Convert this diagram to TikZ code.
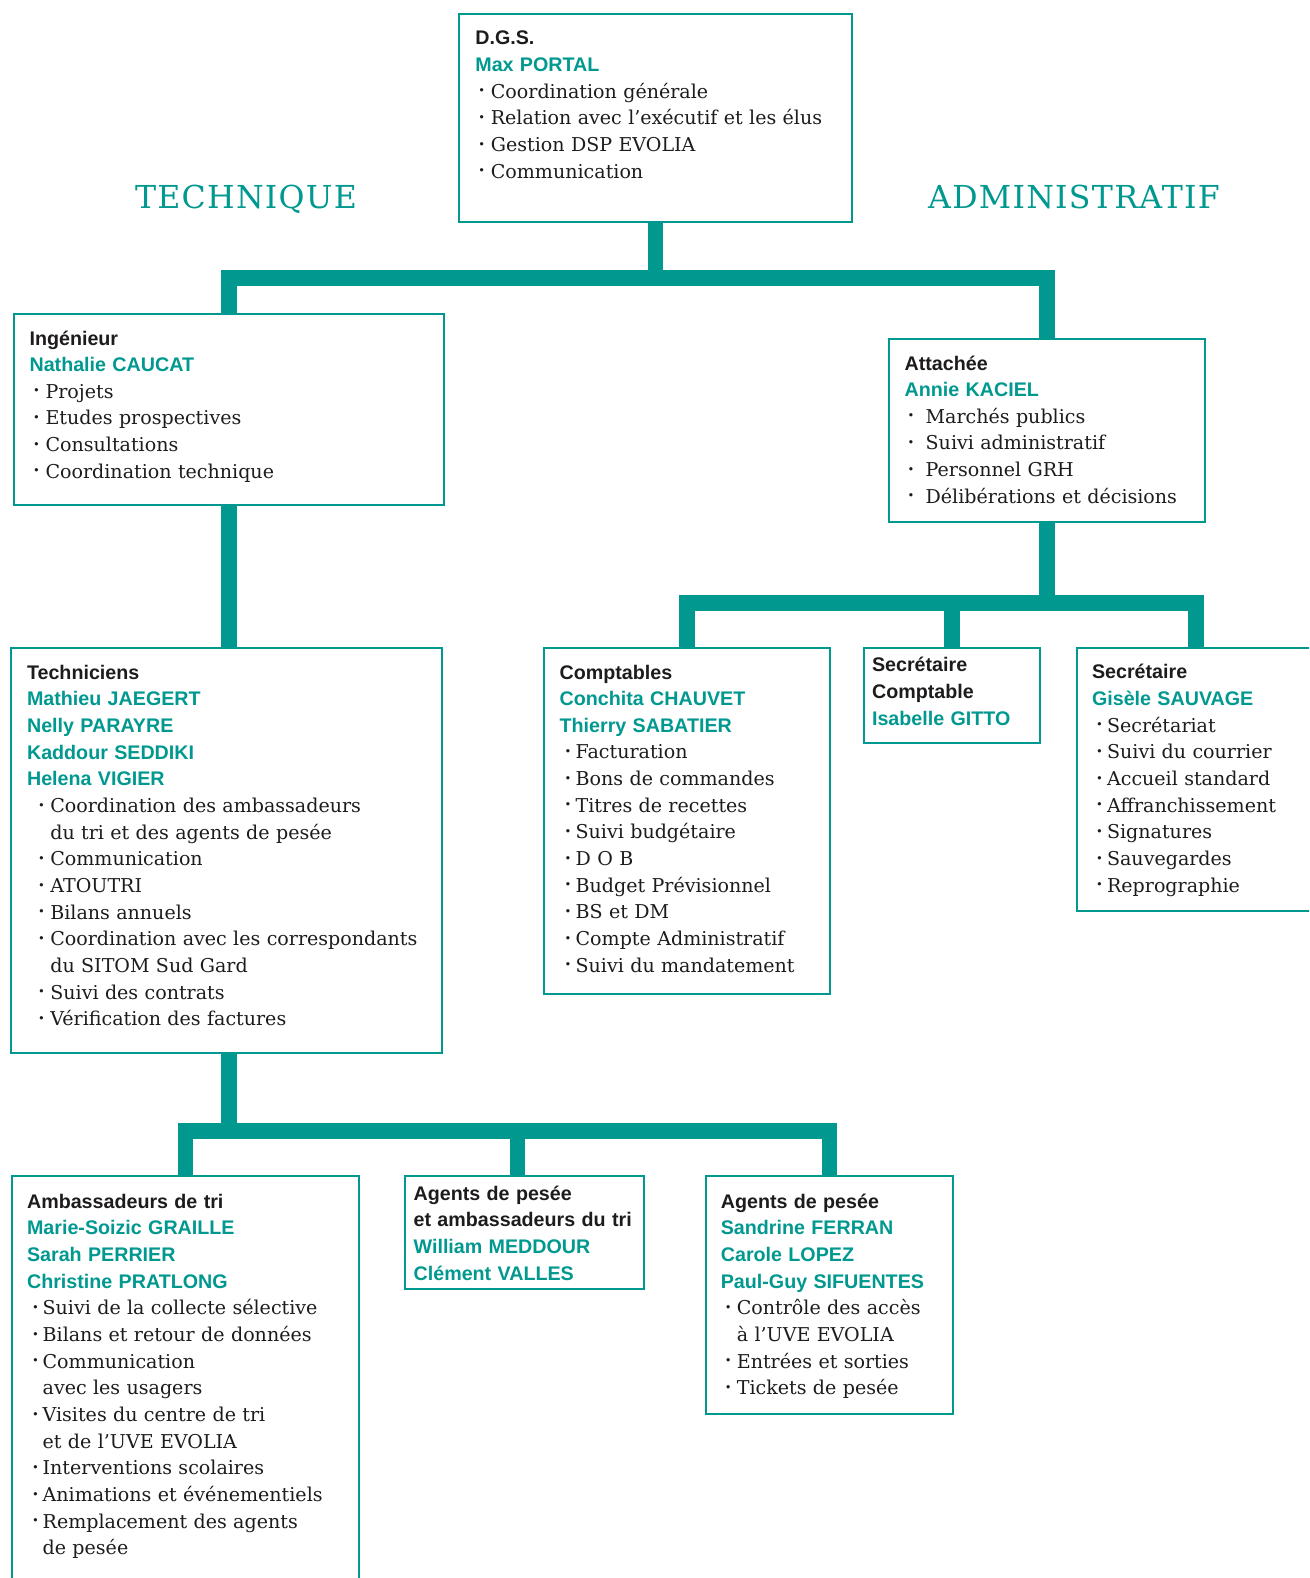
\documentclass[tikz,border=0pt]{standalone}
\usepackage{fontspec}
\setmainfont{DejaVu Serif}
\setsansfont{Liberation Sans}
\usepackage{tikz}
\usetikzlibrary{calc}

\definecolor{orgteal}{RGB}{0,152,143}
\definecolor{inkc}{RGB}{30,27,28}

\newlength\pxl \setlength\pxl{0.02cm}
\newlength\bulind \newlength\bulgap
\newcommand\setbul[2]{\setlength\bulind{#1\pxl}\setlength\bulgap{#2\pxl}}
\newcommand\hd[1]{\leavevmode{\sffamily\bfseries\fontsize{11.2}{15.17}\selectfont #1}\par}
\newcommand\nm[1]{\leavevmode{\sffamily\bfseries\fontsize{11.2}{15.17}\selectfont\color{orgteal}#1}\par}
\newcommand\dotb{\raisebox{1.9pt}{\fontsize{6.5}{6.5}\selectfont •}}
\newcommand\itm[1]{\leavevmode\hspace*{\bulind}\makebox[\bulgap][l]{\dotb}#1\par}
\newcommand\cnt[1]{\leavevmode\hspace*{\bulind}\hspace*{\bulgap}#1\par}

\tikzset{
	box/.style={draw=orgteal, line width=0.032cm, inner sep=0pt, anchor=north west},
	txt/.style={anchor=base west, inner sep=0pt, text width=9cm, align=left,
		font=\fontsize{10.85}{15.17}\selectfont, text=inkc},
	link/.style={draw=orgteal, line width=0.31cm, line join=miter},
	side/.style={anchor=base, text=orgteal,
		font={\fontsize{18}{20}\selectfont\addfontfeatures{LetterSpace=4}}}
}

\begin{document}
\begin{tikzpicture}[x=0.02cm, y=-0.02cm]
	\useasboundingbox (0,0) rectangle (1309,1578);
	\clip (0,0) rectangle (1309,1578);

	\node[side] (technique) at (246,209) {TECHNIQUE};
	\node[side] (administratif) at (1074,209) {ADMINISTRATIF};

	\node[box, minimum width=393*\pxl, minimum height=208*\pxl] (dgs) at (458,13) {};
	\node[box, minimum width=430*\pxl, minimum height=191*\pxl] (ing) at (13,313) {};
	\node[box, minimum width=316*\pxl, minimum height=183*\pxl] (att) at (888,338) {};
	\node[box, minimum width=431*\pxl, minimum height=405*\pxl] (tech) at (10,647) {};
	\node[box, minimum width=286*\pxl, minimum height=346*\pxl] (comp) at (543,647) {};
	\node[box, minimum width=176*\pxl, minimum height=95*\pxl] (secc) at (863,647) {};
	\node[box, minimum width=238*\pxl, minimum height=263*\pxl] (sec) at (1076,647) {};
	\node[box, minimum width=347*\pxl, minimum height=420*\pxl] (amb) at (11,1175) {};
	\node[box, minimum width=239*\pxl, minimum height=113*\pxl] (agam) at (404,1175) {};
	\node[box, minimum width=247*\pxl, minimum height=238*\pxl] (pes) at (705,1175) {};

	\node[txt] (dgs-t) at ($(dgs.north west)+(17,32)$) {\setbul{3}{12.5}%
		\hd{D.G.S.}\nm{Max PORTAL}%
		\itm{Coordination générale}\itm{Relation avec l’exécutif et les élus}%
		\itm{Gestion DSP EVOLIA}\itm{Communication}};
	\node[txt] (ing-t) at ($(ing.north west)+(16.2,32)$) {\setbul{3.5}{12.5}%
		\hd{Ingénieur}\nm{Nathalie CAUCAT}%
		\itm{Projets}\itm{Etudes prospectives}\itm{Consultations}\itm{Coordination technique}};
	\node[txt] (att-t) at ($(att.north west)+(16.3,32)$) {\setbul{3}{18}%
		\hd{Attachée}\nm{Annie KACIEL}%
		\itm{Marchés publics}\itm{Suivi administratif}\itm{Personnel GRH}%
		\itm{Délibérations et décisions}};
	\node[txt] (tech-t) at ($(tech.north west)+(16.7,32.3)$) {\setbul{11}{12.3}%
		\hd{Techniciens}\nm{Mathieu JAEGERT}\nm{Nelly PARAYRE}\nm{Kaddour SEDDIKI}\nm{Helena VIGIER}%
		\itm{Coordination des ambassadeurs}\cnt{du tri et des agents de pesée}%
		\itm{Communication}\itm{ATOUTRI}\itm{Bilans annuels}%
		\itm{Coordination avec les correspondants}\cnt{du SITOM Sud Gard}%
		\itm{Suivi des contrats}\itm{Vérification des factures}};
	\node[txt] (comp-t) at ($(comp.north west)+(16.3,32)$) {\setbul{5}{11}%
		\hd{Comptables}\nm{Conchita CHAUVET}\nm{Thierry SABATIER}%
		\itm{Facturation}\itm{Bons de commandes}\itm{Titres de recettes}%
		\itm{Suivi budgétaire}\itm{D O B}\itm{Budget Prévisionnel}\itm{BS et DM}%
		\itm{Compte Administratif}\itm{Suivi du mandatement}};
	\node[txt] (secc-t) at ($(secc.north west)+(8.7,24.8)$) {%
		\hd{Secrétaire}\hd{Comptable}\nm{Isabelle GITTO}};
	\node[txt] (sec-t) at ($(sec.north west)+(15.7,31.8)$) {\setbul{4}{11}%
		\hd{Secrétaire}\nm{Gisèle SAUVAGE}%
		\itm{Secrétariat}\itm{Suivi du courrier}\itm{Accueil standard}%
		\itm{Affranchissement}\itm{Signatures}\itm{Sauvegardes}\itm{Reprographie}};
	\node[txt] (amb-t) at ($(amb.north west)+(15.7,33.3)$) {\setbul{5}{10.6}%
		\hd{Ambassadeurs de tri}\nm{Marie-Soizic GRAILLE}\nm{Sarah PERRIER}\nm{Christine PRATLONG}%
		\itm{Suivi de la collecte sélective}\itm{Bilans et retour de données}%
		\itm{Communication}\cnt{avec les usagers}%
		\itm{Visites du centre de tri}\cnt{et de l’UVE EVOLIA}%
		\itm{Interventions scolaires}\itm{Animations et événementiels}%
		\itm{Remplacement des agents}\cnt{de pesée}};
	\node[txt] (agam-t) at ($(agam.north west)+(9.3,25.2)$) {%
		\hd{Agents de pesée}\hd{et ambassadeurs du tri}\nm{William MEDDOUR}\nm{Clément VALLES}};
	\node[txt] (pes-t) at ($(pes.north west)+(15.5,33.3)$) {\setbul{4}{12}%
		\hd{Agents de pesée}\nm{Sandrine FERRAN}\nm{Carole LOPEZ}\nm{Paul-Guy SIFUENTES}%
		\itm{Contrôle des accès}\cnt{à l’UVE EVOLIA}%
		\itm{Entrées et sorties}\itm{Tickets de pesée}};

	\coordinate (topbar) at (0,278);
	\coordinate (midbar) at (0,603);
	\coordinate (lowbar) at (0,1131);
	\coordinate (agamtop) at ($(agam.north)+(-7,0)$);

	\draw[link] (dgs.south) -- (dgs.south |- topbar);
	\draw[link] (ing.north) -- (ing.north |- topbar) -- (att.north |- topbar) -- (att.north);
	\draw[link] (ing.south) -- (tech.north -| ing.south);

	\draw[link] (att.south) -- (att.south |- midbar);
	\draw[link] (comp.north) -- (comp.north |- midbar) -- (sec.north |- midbar) -- (sec.north);
	\draw[link] (secc.north) -- (secc.north |- midbar);

	\draw[link] (tech.south -| ing.south) -- (ing.south |- lowbar);
	\draw[link] (amb.north) -- (amb.north |- lowbar) -- (pes.north |- lowbar) -- (pes.north);
	\draw[link] (agamtop) -- (agamtop |- lowbar);
\end{tikzpicture}
\end{document}
